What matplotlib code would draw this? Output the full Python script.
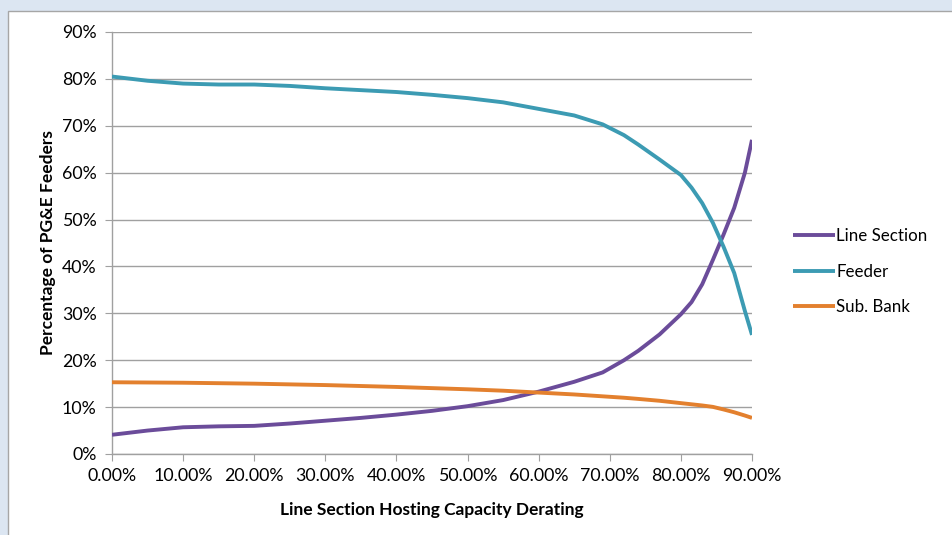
import matplotlib
matplotlib.use("Agg")
import matplotlib.pyplot as plt
from matplotlib.patches import Rectangle
from matplotlib.ticker import FuncFormatter

plt.rcParams['font.family'] = ['Lato', 'DejaVu Sans']

derating = [0.00, 0.05, 0.10, 0.15, 0.20, 0.25, 0.30, 0.35, 0.40, 0.45, 0.50,
            0.55, 0.60, 0.65, 0.69, 0.72, 0.74, 0.77, 0.80, 0.815, 0.83, 0.845,
            0.86, 0.875, 0.89, 0.90]
line_section = [4.1, 5.0, 5.7, 5.9, 6.0, 6.5, 7.1, 7.7, 8.4, 9.2, 10.2,
                11.5, 13.3, 15.4, 17.4, 20.0, 22.0, 25.5, 29.8, 32.4, 36.2, 41.4,
                46.8, 52.5, 60.0, 67.0]
feeder = [80.5, 79.6, 79.0, 78.8, 78.8, 78.5, 78.0, 77.6, 77.2, 76.6, 75.9,
          75.0, 73.6, 72.2, 70.3, 68.0, 66.0, 62.8, 59.5, 56.8, 53.5, 49.3,
          44.2, 38.6, 30.5, 25.4]
sub_bank = [15.3, 15.25, 15.2, 15.1, 15.0, 14.85, 14.7, 14.5, 14.3, 14.05, 13.8,
            13.5, 13.1, 12.7, 12.3, 12.0, 11.75, 11.35, 10.85, 10.6, 10.35, 10.05,
            9.5, 8.9, 8.2, 7.7]

series_names = ["Line Section", "Feeder", "Sub. Bank"]
colors = ["#6B4C9A", "#3C9BB3", "#E3802E"]

x_ticks = [0.0, 0.1, 0.2, 0.3, 0.4, 0.5, 0.6, 0.7, 0.8, 0.9]
y_ticks = [0, 10, 20, 30, 40, 50, 60, 70, 80, 90]

fig = plt.figure(figsize=(9.52, 5.35), dpi=100)
fig.patch.set_facecolor("#DCE6F2")
panel = Rectangle((8 / 952, -0.01), 1.0, (535 - 11) / 535 + 0.01, transform=fig.transFigure,
                  facecolor="white", edgecolor="#A6A6A6", linewidth=1.0, zorder=-10)
fig.patches.append(panel)

ax = fig.add_axes([112 / 952, (535 - 454) / 535, (752 - 112) / 952, (454 - 32) / 535])
ax.set_zorder(5)
ax.set_facecolor("white")

for vals, name, c in zip([line_section, feeder, sub_bank], series_names, colors):
    ax.plot(derating, vals, color=c, linewidth=2.8, label=name, solid_capstyle="butt",
            solid_joinstyle="round", zorder=3)

ax.set_xlim(0, 0.9)
ax.set_ylim(0, 90)
ax.set_xticks(x_ticks)
ax.set_yticks(y_ticks)
ax.xaxis.set_major_formatter(FuncFormatter(lambda v, p: f"{v*100:.2f}%"))
ax.yaxis.set_major_formatter(FuncFormatter(lambda v, p: f"{v:.0f}%"))
ax.grid(axis="y", color="#A0A0A0", linewidth=1.0, zorder=1)
ax.set_axisbelow(True)
for s in ["top", "right"]:
    ax.spines[s].set_visible(False)
for s in ["left", "bottom"]:
    ax.spines[s].set_color("#A0A0A0")
    ax.spines[s].set_linewidth(1.0)
ax.tick_params(axis="both", direction="out", length=5, color="#A0A0A0", labelsize=12.8,
               labelcolor="black")
ax.tick_params(axis="y", pad=6)
ax.tick_params(axis="x", pad=5)

ax.set_xlabel("Line Section Hosting Capacity Derating", fontsize=12.5, fontweight="bold", labelpad=13)
ax.set_ylabel("Percentage of PG&E Feeders", fontsize=12.5, fontweight="bold", labelpad=4)

leg = ax.legend(loc="center left", bbox_to_anchor=(1.04, 0.432), frameon=False, fontsize=12.2,
                handlelength=2.5, handletextpad=0.05, labelspacing=1.15)

fig.savefig("out.png", dpi=100, facecolor=fig.get_facecolor())
